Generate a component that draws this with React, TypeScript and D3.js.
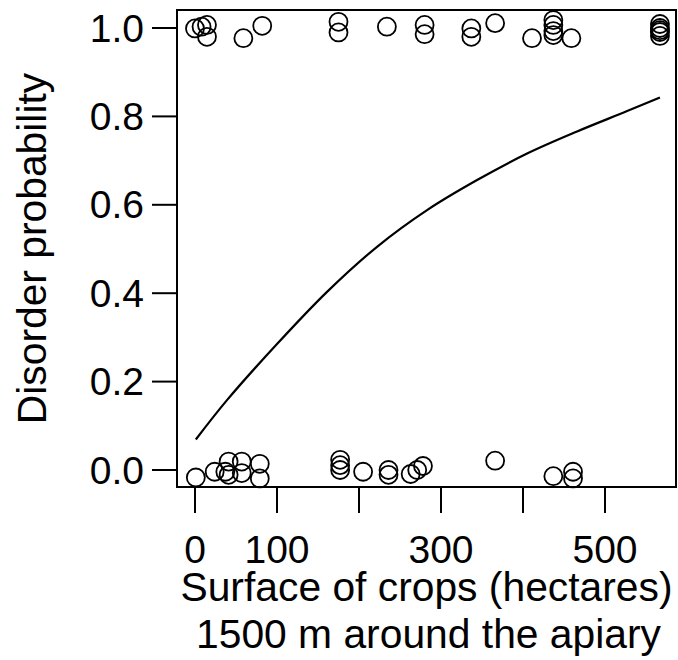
import React from "react";
import * as d3 from "d3";

// Observed points (x = surface of crops, ha; y = disorder, jittered around 0/1)
const topX = [0, 8, 14.6, 14.6, 59, 82, 175, 175, 234, 280, 280, 337, 337, 366, 411, 437, 437, 437, 437, 459, 567, 567, 567, 567, 567];
const topY = [0.999, 1.003, 1.007, 0.98, 0.977, 1.005, 1.014, 0.99, 1.003, 1.007, 0.986, 0.999, 0.98, 1.011, 0.977, 1.018, 1.007, 0.993, 0.984, 0.977, 1.009, 1.0, 0.991, 0.982, 0.995];
const bottomX = [1, 24, 37, 41, 41, 57, 57, 79, 79, 177, 177, 177, 205, 236, 236, 263, 271, 278, 366, 437, 461, 461];
const bottomY = [-0.017, -0.004, -0.004, 0.019, -0.011, 0.019, -0.007, 0.014, -0.019, 0.023, 0.011, 0.0, -0.004, 0.0, -0.011, -0.009, 0.0, 0.009, 0.021, -0.014, -0.004, -0.019];

// Fitted curve
const curveX = [1, 39, 100, 161, 222, 283, 344, 405, 466, 527, 567];
const curveY = [0.069, 0.158, 0.285, 0.403, 0.505, 0.588, 0.656, 0.716, 0.766, 0.812, 0.843];

const xTicks = [0, 100, 200, 300, 400, 500];
const xTickLabels = ["0", "100", "", "300", "", "500"];
const yTicks = [0, 0.2, 0.4, 0.6, 0.8, 1.0];

const xLabel1 = "Surface of crops (hectares)";
const xLabel2 = "1500 m around the apiary";
const yLabel = "Disorder probability";

export default function App() {
  const W = 678, H = 660;
  const left = 177, right = 676, top = 10, bottom = 487;
  const x = d3.scaleLinear().domain([0, 500]).range([195, 605]);
  const y = d3.scaleLinear().domain([0, 1]).range([470, 28]);
  const font = "'Liberation Sans', Arial, Helvetica, sans-serif";
  const fs = 39;

  const line = d3
    .line<number>()
    .x((_, i) => x(curveX[i]))
    .y((d) => y(d))
    .curve(d3.curveCatmullRom.alpha(0.5));

  const pts = [
    ...topX.map((v, i) => [v, topY[i]]),
    ...bottomX.map((v, i) => [v, bottomY[i]]),
  ];

  return (
    <svg
      width={W}
      height={H}
      style={{ position: "absolute", left: 0, top: 0, background: "#fff" }}
      fontFamily={font}
    >
      <rect x={0} y={0} width={W} height={H} fill="#fff" />
      <rect
        x={left}
        y={top}
        width={right - left}
        height={bottom - top}
        fill="none"
        stroke="#000"
        strokeWidth={2}
      />
      {yTicks.map((t) => (
        <g key={"y" + t}>
          <line x1={152} x2={left} y1={y(t)} y2={y(t)} stroke="#000" strokeWidth={2} />
          <text
            x={144}
            y={y(t)}
            textAnchor="end"
            dominantBaseline="central"
            fontSize={fs}
            fill="#000"
          >
            {t.toFixed(1)}
          </text>
        </g>
      ))}
      {xTicks.map((t, i) => (
        <g key={"x" + t}>
          <line x1={x(t)} x2={x(t)} y1={bottom} y2={513} stroke="#000" strokeWidth={2} />
          {xTickLabels[i] ? (
            <text x={x(t)} y={563} textAnchor="middle" fontSize={fs} fill="#000">
              {xTickLabels[i]}
            </text>
          ) : null}
        </g>
      ))}
      <path d={line(curveY) || ""} fill="none" stroke="#000" strokeWidth={2.2} />
      {pts.map(([px, py], i) => (
        <circle
          key={"p" + i}
          cx={x(px)}
          cy={y(py)}
          r={9}
          fill="none"
          stroke="#000"
          strokeWidth={1.8}
        />
      ))}
      <text x={(left + right) / 2} y={601} textAnchor="middle" fontSize={40.8} fill="#000">
        {xLabel1}
      </text>
      <text x={(left + right) / 2 + 2} y={648} textAnchor="middle" fontSize={40.8} fill="#000">
        {xLabel2}
      </text>
      <text
        transform={`translate(46, ${(top + bottom) / 2}) rotate(-90)`}
        textAnchor="middle"
        fontSize={40.8}
        fill="#000"
      >
        {yLabel}
      </text>
    </svg>
  );
}
